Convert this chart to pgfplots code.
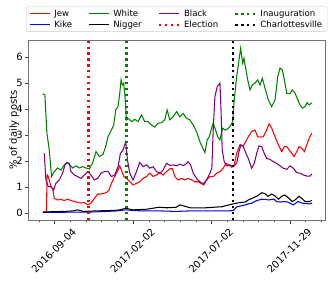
\documentclass[border=0pt]{standalone}
\usepackage{fontspec}
\setmainfont{DejaVu Sans}
\usepackage{pgfplots}
\pgfplotsset{compat=1.18}
\definecolor{mplgreen}{rgb}{0,0.5,0}
\definecolor{mplpurple}{rgb}{0.5,0,0.5}
\begin{document}
\begin{tikzpicture}
\useasboundingbox (-28.5bp,-61bp) rectangle (303.5bp,220bp);
\begin{axis}[
  scale only axis, width=296.5bp, height=180bp,
  xmin=-50, xmax=518, ymin=-0.27, ymax=6.65,
  xtick={0,151,301,451},
  xticklabels={2016-09-04,2017-02-02,2017-07-02,2017-11-29},
  minor xtick={-30,30,60,90,120,181,211,241,271,331,361,391,421,481,511},
  ytick={0,1,2,3,4,5,6},
  tick align=outside, tick pos=left,
  major tick length=3.5bp, minor tick length=2bp,
  axis line style={black!55},
  every tick/.style={black!75, line width=0.6bp},
  /pgf/number format/assume math mode=true,
  tick label style={font=\fontsize{10}{12}\selectfont},
  xticklabel style={xshift=17bp, yshift=-4bp, rotate=45, anchor=north east, inner sep=0pt},
  yticklabel style={inner sep=2pt},
  ylabel={\% of daily posts},
  ylabel shift=-8bp,
  ylabel style={font=\fontsize{10}{12}\selectfont},
  legend columns=4,
  legend cell align=left,
  legend style={at={(0.5,1.045)}, anchor=south, draw=black!20, rounded corners=2pt,
    font=\fontsize{8.6}{10}\selectfont, inner xsep=3bp, inner ysep=1bp,
    row sep=-1bp,
    /tikz/every odd column/.append style={column sep=2bp},
    /tikz/every even column/.append style={column sep=14bp}},
  legend image code/.code={\draw[#1] (0bp,0bp) -- (20bp,0bp);},
  every axis plot/.append style={line width=1.05bp},
]
% legend entries (row-major order)
\addlegendimage{red}\addlegendentry{Jew}
\addlegendimage{mplgreen}\addlegendentry{White}
\addlegendimage{mplpurple}\addlegendentry{Black}
\addlegendimage{mplgreen, line width=2.3bp, dash pattern=on 2.3bp off 3.6bp}\addlegendentry{Inauguration}
\addlegendimage{blue}\addlegendentry{Kike}
\addlegendimage{black}\addlegendentry{Nigger}
\addlegendimage{red, line width=2.3bp, dash pattern=on 2.3bp off 3.6bp}\addlegendentry{Election}
\addlegendimage{black, line width=2.3bp, dash pattern=on 2.3bp off 3.6bp}\addlegendentry{Charlottesville}

% Jew
\addplot[red, forget plot] coordinates {
(-23,0.02) (-17,0.03) (-15.5,0.05) (-14.5,1.46) (-13.4,1.46) (-10.6,1.30) (-7.1,1.01) (-3.8,0.95) (-0.6,0.56)
(5.8,0.50) (12.1,0.52) (18.6,0.48) (25,0.53) (31.3,0.48) (37.8,0.44) (44.1,0.41) (50.5,0.38)
(57,0.40) (63.3,0.31) (69.7,0.38) (76.2,0.56) (82.5,0.73) (88.9,0.73) (95.4,0.76) (100.4,0.80)
(104.2,0.88) (108.8,1.14) (115.2,1.40) (121.5,1.65) (124.8,1.81) (128,1.65) (132.4,1.40)
(137.6,1.33) (144,1.20) (150.3,1.08) (156.8,1.14) (163.1,1.20) (169.5,1.33) (176,1.40)
(182.3,1.53) (188.7,1.40) (195.2,1.46) (201.5,1.55) (207.9,1.46) (214.4,1.59) (220.7,1.70)
(225.8,1.70) (230.3,1.40) (236.7,1.27) (243.2,1.33) (249.5,1.27) (255.9,1.33) (262.4,1.27)
(268.7,1.20) (275.1,1.20) (281.6,1.12) (286,1.08) (291.2,1.27) (297.5,1.40) (303.8,1.40)
(310.4,1.53) (316.7,1.59) (323,1.72) (328.2,1.91) (332.6,1.85) (339.2,1.76) (344.1,1.85)
(348.8,2.29) (355.1,2.62) (361.5,2.58) (368,2.81) (371,2.93) (377.5,3.13) (383.9,3.19)
(389.1,2.93) (393.5,2.92) (399.8,2.93) (406.3,3.19) (410.7,3.42) (415.9,3.26) (422.3,2.93)
(428.6,2.62) (435.1,2.36) (440.1,2.55) (444.7,2.55) (449.7,2.42) (454.3,2.29) (458.7,2.17)
(463.9,2.36) (468.3,2.55) (473.5,2.49) (478.5,2.36) (483.1,2.62) (487.5,2.87) (492.7,3.06)
};
% Kike
\addplot[blue, forget plot] coordinates {
(-22,0.02) (0,0.02) (25,0.03) (50,0.03) (75,0.04) (100,0.06) (120,0.08) (137,0.12) (155,0.09)
(170,0.08) (200,0.08) (233,0.06) (260,0.08) (300,0.08) (330,0.08) (342,0.09) (349,0.24)
(357,0.27) (365,0.31) (371,0.35) (378,0.38) (383,0.44) (388,0.48) (397,0.53) (404,0.52)
(410,0.50) (416,0.52) (420,0.53) (425,0.44) (432,0.42) (440,0.44) (446,0.42) (451,0.38)
(457,0.31) (462,0.38) (466,0.44) (474,0.38) (483,0.36) (488,0.35) (493,0.38)
};
% White
\addplot[mplgreen, forget plot] coordinates {
(-23,4.58) (-18.6,4.55) (-14.8,3.08) (-10.2,2.42) (-5.8,1.40) (-0.6,1.59) (5.8,1.73) (12.1,1.65)
(18.6,1.85) (23.6,1.94) (28.2,1.88) (34.5,1.73) (40.9,1.81) (47.4,1.73) (53.7,1.78) (60.1,1.73)
(66.6,1.69) (72.9,1.92) (79.3,2.36) (85.8,2.17) (92.7,2.25) (97.9,2.55) (102.3,2.93) (108.8,3.19)
(113.2,3.38) (117.1,3.96) (121.5,4.09) (124.8,4.60) (127.3,5.12) (129.9,4.92) (132.4,4.99)
(134.9,4.47) (137.6,3.58) (140.7,3.64) (147.2,3.51) (153.6,3.60) (159.9,3.51) (166.4,3.77)
(172.7,3.51) (179.1,3.51) (185.6,3.38) (191.9,3.30) (198.3,3.45) (204.8,3.47) (211.1,3.58)
(215.5,3.96) (220.7,3.58) (227.1,3.70) (233.6,3.90) (239.9,3.70) (246.3,3.83) (252.8,3.64)
(259.1,3.58) (265.5,3.38) (272,3.13) (278.3,2.74) (282.7,2.55) (287.9,2.32) (292.3,2.81)
(296.2,2.93) (300.8,3.26) (303.8,3.45) (308.5,3.19) (312.3,2.93) (316.7,2.81) (321.9,3.26)
(326.3,3.19) (330.7,3.22) (335.9,3.32) (341.1,3.51) (344.1,4.35) (348.8,5.24) (353.2,5.88)
(356.4,6.33) (360.3,5.76) (362.8,5.95) (364.7,5.69) (366.6,5.50) (369.9,5.12) (374.3,4.73)
(378.7,4.92) (383.9,4.99) (389.1,5.12) (393.5,4.92) (397.9,5.18) (403.1,4.80) (409.4,4.35)
(415.9,4.09) (422.3,4.35) (427.4,5.24) (431.9,5.57) (436.3,5.50) (440.1,5.12) (444.7,4.60)
(451.1,4.60) (455.5,4.73) (460.7,4.60) (465.8,4.35) (470.3,4.15) (474.7,4.03) (479.9,4.09)
(483.7,4.24) (487.5,4.15) (492.7,4.24)
};
% Nigger
\addplot[black, forget plot] coordinates {
(-22,0.04) (0,0.05) (20,0.06) (35,0.08) (44,0.12) (55,0.06) (80,0.08) (100,0.09) (115,0.10)
(125,0.12) (136,0.18) (150,0.12) (175,0.14) (200,0.22) (215,0.20) (233,0.22) (240,0.31)
(260,0.20) (290,0.20) (320,0.24) (342,0.35) (355,0.40) (365,0.42) (371,0.50) (378,0.56)
(388,0.65) (397,0.78) (403,0.74) (409,0.64) (416,0.73) (422,0.66) (429,0.53) (435,0.64)
(441,0.69) (448,0.58) (455,0.44) (462,0.52) (468,0.64) (474,0.55) (480,0.44) (487,0.44) (493,0.48)
};
% Black
\addplot[mplpurple, forget plot] coordinates {
(-19.8,2.29) (-16.7,1.27) (-12.1,1.01) (-7.1,1.01) (-1.9,0.88) (2.5,1.14) (9,1.27) (15.4,1.53)
(19.8,1.85) (23.6,1.94) (28.2,1.91) (31.3,1.59) (37.8,1.46) (44.1,1.40) (50.5,1.33) (57,1.46)
(63.3,1.59) (69.7,1.46) (76.2,1.27) (82.5,1.33) (88.9,1.53) (95.4,1.59) (102.3,1.60) (108.8,1.40)
(115.2,1.46) (121.5,1.78) (126.1,2.29) (131.1,2.42) (136.3,2.74) (139.5,2.04) (144,1.53)
(150.3,1.27) (156.8,1.59) (163.1,1.94) (169.5,1.78) (176,1.85) (182.3,1.72) (188.7,1.78)
(195.2,1.59) (201.5,1.53) (207.9,1.65) (214.4,1.91) (220.7,1.83) (227.1,1.85) (233.6,1.81)
(239.9,1.88) (246.3,1.82) (252.8,1.90) (255.9,1.97) (260.5,1.85) (265.5,1.53) (272,1.33)
(278.3,1.20) (284.6,1.12) (291.2,1.27) (297.5,1.53) (301.3,1.72) (303.8,3.19) (307.1,4.47)
(311.5,4.86) (316.7,4.99) (318.6,4.09) (321.1,2.42) (324.9,1.97) (329.6,1.81) (335.9,1.85)
(342.2,1.78) (348.8,1.91) (353.2,2.36) (357,2.62) (361.5,2.55) (366.6,2.29) (371,2.10)
(377.5,1.72) (382.5,1.91) (387.1,2.29) (391.5,2.58) (396.7,2.55) (401.7,2.29) (406.3,2.10)
(412.6,2.06) (419,1.97) (425.5,1.91) (431.9,1.81) (438.2,1.72) (444.7,1.68) (451.1,1.81)
(457.4,1.72) (463.9,1.55) (470.3,1.53) (476.6,1.46) (483.1,1.42) (489.4,1.42) (492.7,1.50)
};
% event lines
\addplot[red, forget plot, line width=2.3bp, dash pattern=on 2.3bp off 3.6bp] coordinates {(65,-0.27) (65,6.65)};
\addplot[mplgreen, forget plot, line width=2.3bp, dash pattern=on 2.3bp off 3.6bp] coordinates {(138,-0.27) (138,6.65)};
\addplot[black, forget plot, line width=2.3bp, dash pattern=on 2.3bp off 3.6bp] coordinates {(342,-0.27) (342,6.65)};
\end{axis}
\end{tikzpicture}
\end{document}
